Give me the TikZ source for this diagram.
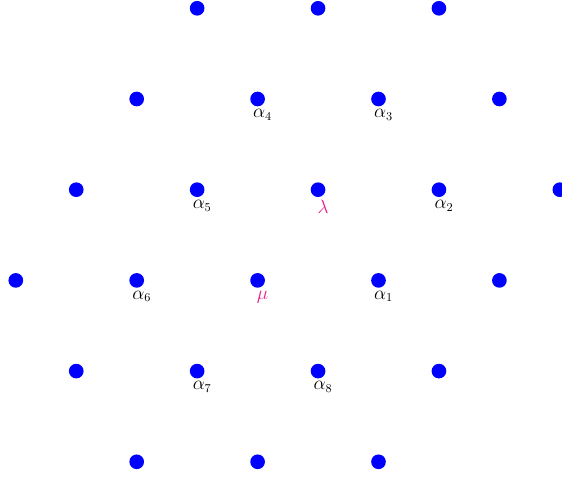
\documentclass[tikz,border=0pt]{standalone}
\definecolor{dotblue}{RGB}{0,0,255}
\definecolor{wtpink}{RGB}{233,30,140}
\begin{document}
\begin{tikzpicture}[x=0.75pt,y=-0.75pt,
  dot/.style={circle,fill=dotblue,draw=none,minimum size=11pt,inner sep=0pt},
  lab/.style={anchor=north,inner sep=0pt,font=\fontsize{13.5}{16}\selectfont,xshift=3.75pt,yshift=-7.6pt},
  wt/.style={lab,text=wtpink}]
\useasboundingbox (0,0) rectangle (562,477);
\foreach \r/\ks in {0/{3,5,7},1/{2,4,6,8},2/{1,3,5,7,9},3/{0,2,4,6,8},4/{1,3,5,7},5/{2,4,6}}{
  \foreach \k in \ks {
    \node[dot] (p-\k-\r) at ({15.8+60.45*\k},{8.3+90.7*\r}) {};
  }
}
\node[lab] (a4) at (p-4-1) {$\alpha_4$};
\node[lab] (a3) at (p-6-1) {$\alpha_3$};
\node[lab] (a5) at (p-3-2) {$\alpha_5$};
\node[wt]  (la) at (p-5-2) {$\lambda$};
\node[lab] (a2) at (p-7-2) {$\alpha_2$};
\node[lab] (a6) at (p-2-3) {$\alpha_6$};
\node[wt]  (mu) at (p-4-3) {$\mu$};
\node[lab] (a1) at (p-6-3) {$\alpha_1$};
\node[lab] (a7) at (p-3-4) {$\alpha_7$};
\node[lab] (a8) at (p-5-4) {$\alpha_8$};
\end{tikzpicture}
\end{document}
